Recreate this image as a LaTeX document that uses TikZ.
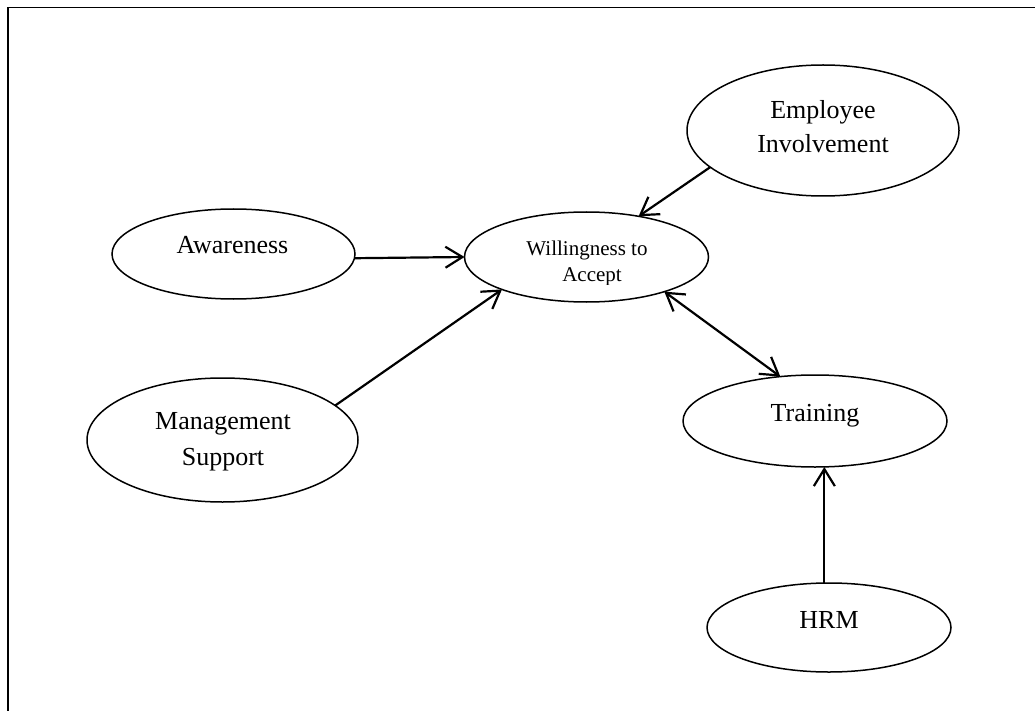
\documentclass[tikz,border=0pt]{standalone}
\usepackage{fontspec}
\setmainfont{Liberation Serif}
\usetikzlibrary{shapes.geometric,arrows.meta}
\begin{document}
\begin{tikzpicture}[x=1pt,y=-1pt,
  oval/.style 2 args={draw,ellipse,line width=1.5pt,inner sep=0pt,outer sep=0pt,minimum width=#1,minimum height=#2},
  lbl/.style={anchor=base,inner sep=0pt,font=\fontsize{26}{34}\selectfont},
  slbl/.style={anchor=base,inner sep=0pt,font=\fontsize{21}{27}\selectfont},
  conn/.style={line width=2.2pt,-{Straight Barb[length=17pt,width=21pt]}},
  biconn/.style={line width=2.2pt,{Straight Barb[length=17pt,width=21pt]}-{Straight Barb[length=17pt,width=21pt]}}]
\useasboundingbox (0,0) rectangle (1035,711);
\clip (0,0) rectangle (1035,711);
% frame
\draw[line width=1.8pt] (8.3,730) -- (8.3,7.5) -- (1050,7.5);
% ellipses
\node[oval={272pt}{131pt}] (emp) at (823,130.5) {};
\node[oval={243pt}{90pt}] (aw) at (233.5,254) {};
\node[oval={244pt}{90pt}] (will) at (586.5,257) {};
\node[oval={271pt}{124pt}] (mgmt) at (222.5,440) {};
\node[oval={264pt}{92pt}] (tr) at (815,421) {};
\node[oval={244pt}{89pt}] (hrm) at (829,627.5) {};
% labels
\node[lbl] (tEmp1) at (823,119) {Employee};
\node[lbl] (tEmp2) at (823,152.5) {Involvement};
\node[lbl] (tAw) at (232.5,254) {Awareness};
\node[slbl] (tWill1) at (587,255) {Willingness to};
\begin{scope}
\clip (480,262) rectangle (700,284);
\node[slbl] (tWill2) at (592,281) {Accept};
\end{scope}
\node[lbl] (tMg1) at (223,429) {Management};
\node[lbl] (tMg2) at (223,465) {Support};
\node[lbl] (tTr) at (815,421) {Training};
\node[lbl] (tHrm) at (829,628) {HRM};
% connectors
\draw[conn] (aw.-2) -- (will.180.5);
\draw[conn] (mgmt.17.5) -- (will.201.5);
\draw[conn] (emp.198) -- (will.38);
\draw[biconn] (will.-24) -- (tr.128);
\draw[conn] (hrm.96) -- (hrm.96 |- tr.south);
\end{tikzpicture}
\end{document}
